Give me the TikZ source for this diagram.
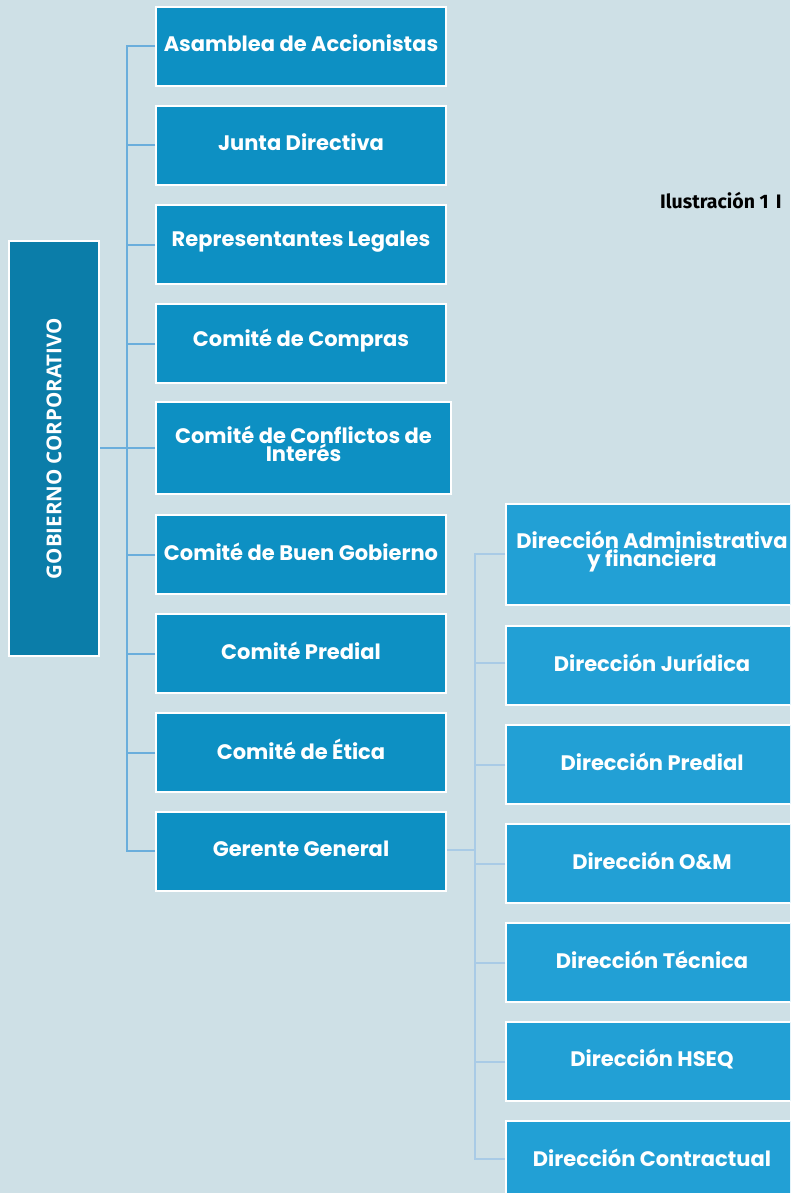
\documentclass[tikz,border=0pt]{standalone}
\usepackage{fontspec}
\setmainfont{Poppins}
\newfontfamily\gobfont{Open Sans}
\newfontfamily\capfont{Fira Sans}
\definecolor{bgc}{HTML}{CEE0E6}
\definecolor{lbox}{HTML}{0D90C3}
\definecolor{gbox}{HTML}{0B7DA9}
\definecolor{rbox}{HTML}{22A0D5}
\definecolor{connA}{HTML}{6AAEDC}
\definecolor{connB}{HTML}{A9CBE6}
\tikzset{
  orgbox/.style={draw=white, line width=2pt, anchor=north west, minimum height=79pt,
    minimum width=290pt, inner sep=0pt},
  boxtext/.style={text=white, align=center, inner sep=0pt, yshift=3pt,
    font=\fontsize{21}{18}\selectfont\bfseries},
  lboxst/.style={orgbox, fill=lbox},
  rboxst/.style={orgbox, fill=rbox, minimum width=292pt},
  connl/.style={draw=connA, line width=2pt},
  connr/.style={draw=connB, line width=2pt},
}
\begin{document}
\begin{tikzpicture}[x=1pt,y=-1pt]
\useasboundingbox (0,0) rectangle (790,1193);
\clip (0,0) rectangle (790,1193);
\fill[bgc] (0,0) rectangle (790,1193);

% caption
\node[anchor=base west, inner sep=0pt, font=\capfont\fontsize{19.5}{20}\selectfont\bfseries] (cap) at (660,208) {Ilustración 1\hspace{7pt}I};

% Gobierno corporativo
\node[draw=white, line width=2pt, fill=gbox, anchor=north west, minimum width=90pt,
  minimum height=415pt, inner sep=0pt] (gob) at (8,240) {};
\node[rotate=90, text=white, font=\gobfont\fontsize{20.5}{22}\selectfont\bfseries] (gobt) at (gob.center) {GOBIERNO CORPORATIVO};

% left column
\node[lboxst, label={[boxtext]center:Asamblea de Accionistas}] (b1) at (155,6) {};
\node[lboxst, label={[boxtext]center:Junta Directiva}] (b2) at (155,105) {};
\node[lboxst, label={[boxtext]center:Representantes Legales}] (b3) at (155,204) {};
\node[lboxst, label={[boxtext]center:Comité de Compras}] (b4) at (155,303) {};
\node[lboxst, minimum width=295pt, minimum height=92pt, label={[boxtext, yshift=1pt]center:Comité de Conflictos de\\Interés}] (b5) at (155,401) {};
\node[lboxst, label={[boxtext]center:Comité de Buen Gobierno}] (b6) at (155,514) {};
\node[lboxst, label={[boxtext]center:Comité Predial}] (b7) at (155,613) {};
\node[lboxst, label={[boxtext]center:Comité de Ética}] (b8) at (155,712) {};
\node[lboxst, label={[boxtext]center:Gerente General}] (b9) at (155,811) {};

% right column
\node[rboxst, minimum height=101pt, label={[boxtext]center:Dirección Administrativa\\y financiera}] (r1) at (505,503) {};
\node[rboxst, label={[boxtext]center:Dirección Jurídica}] (r2) at (505,625) {};
\node[rboxst, label={[boxtext]center:Dirección Predial}] (r3) at (505,724) {};
\node[rboxst, label={[boxtext]center:Dirección O\&M}] (r4) at (505,823) {};
\node[rboxst, label={[boxtext]center:Dirección Técnica}] (r5) at (505,922) {};
\node[rboxst, label={[boxtext]center:Dirección HSEQ}] (r6) at (505,1021) {};
\node[rboxst, label={[boxtext]center:Dirección Contractual}] (r7) at (505,1120) {};

% left connectors
\coordinate (lt1) at (127,46);
\coordinate (lt9) at (127,851);
\draw[connl] (b1.west |- lt1) -- (lt1) -- (lt9) -- (b9.west |- lt9);
\foreach \n in {b2,b3,b4,b5,b6,b7,b8}{
  \draw[connl] (\n.west) -- (\n.west -| lt1);
}
\draw[connl] (gob.east |- 0,448) -- (lt1 |- 0,448);

% right connectors
\coordinate (rt1) at (475,554);
\coordinate (rt7) at (475,1159);
\draw[connr] (r1.west |- rt1) -- (rt1) -- (rt7) -- (r7.west |- rt7);
\draw[connr] (r2.west |- 0,663) -- (rt1 |- 0,663);
\foreach \n in {r3,r4,r5,r6}{
  \draw[connr] (\n.west) -- (\n.west -| rt1);
}
\draw[connr] (b9.east |- 0,850) -- (rt1 |- 0,850);
\end{tikzpicture}
\end{document}
